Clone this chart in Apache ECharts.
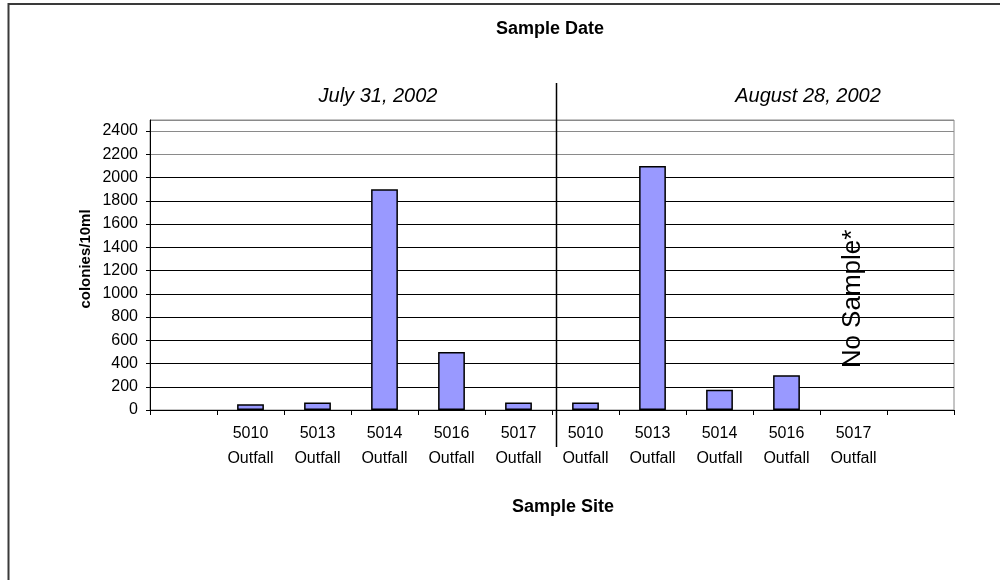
<!DOCTYPE html>
<html>
<head>
<meta charset="utf-8">
<script src="https://cdn.jsdelivr.net/npm/echarts@6/dist/echarts.min.js"></script>
<style>
html,body{margin:0;padding:0;background:#fff;}
#chart{width:1000px;height:580px;}
</style>
</head>
<body>
<div id="chart"></div>
<script>
// ---- data ----
const sites = ['5010', '5013', '5014', '5016', '5017'];
const siteSuffix = 'Outfall';
const sampleDates = ['July 31, 2002', 'August 28, 2002'];
const july31Values = [50, 65, 1900, 500, 65];
const august28Values = [65, 2100, 175, 300, null];
const noSampleText = 'No Sample*';
const noSampleSiteIndex = 4;      // 5017 on August 28
const noSampleLabelValue = 955;   // where the note sits on the value scale
const yAxisMin = 0;
const yAxisMax = 2495;
const yAxisInterval = 200;
const titleText = 'Sample Date';
const xAxisTitle = 'Sample Site';
const yAxisTitle = 'colonies/10ml';

// ---- build ----
const siteLabels = sites.map(s => s + '\n' + siteSuffix);
const categories = [''].concat(siteLabels, siteLabels, ['']);
const barValues = [null].concat(july31Values, august28Values, [null]);

const FONT = "'Liberation Sans', Arial, sans-serif";
const chart = echarts.init(document.getElementById('chart'), null, {renderer: 'canvas'});

const splitColors = [];
for (let v = yAxisMin; v <= yAxisMax; v += yAxisInterval) {
  splitColors.push(v >= 2200 ? '#8a8a8a' : '#000000');
}
splitColors.push('#8a8a8a');

chart.setOption({
  animation: false,
  backgroundColor: '#ffffff',
  grid: {
    left: 150, right: 46, top: 120, bottom: 170,
    show: true, borderColor: '#8a8a8a', borderWidth: 1, backgroundColor: 'transparent'
  },
  xAxis: {
    type: 'category',
    data: categories,
    boundaryGap: true,
    axisLine: {lineStyle: {color: '#000', width: 1}},
    axisTick: {show: true, length: 5, lineStyle: {color: '#000'}, interval: 0},
    axisLabel: {
      interval: 0, color: '#000', fontFamily: FONT, fontSize: 16,
      lineHeight: 25, margin: 11
    },
    splitLine: {show: false}
  },
  yAxis: {
    type: 'value',
    min: yAxisMin, max: yAxisMax, interval: yAxisInterval,
    axisLine: {show: true, lineStyle: {color: '#000', width: 1}},
    axisTick: {show: true, length: 4, lineStyle: {color: '#000'}},
    axisLabel: {color: '#000', fontFamily: FONT, fontSize: 16, margin: 12, showMaxLabel: false,
                formatter: v => String(v)},
    splitLine: {show: true, lineStyle: {color: splitColors, width: 1}}
  },
  series: [{
    type: 'bar',
    data: barValues,
    barWidth: '40%',
    itemStyle: {color: '#9999ff', borderColor: '#000', borderWidth: 1.5}
  }]
});

function drawDecorations() {
  const b0 = chart.convertToPixel({gridIndex: 0}, [sites.length, 0]);
  const b1 = chart.convertToPixel({gridIndex: 0}, [sites.length + 1, 0]);
  const dividerX = Math.round((b0[0] + b1[0]) / 2 + 4) + 0.5;
  const note = chart.convertToPixel({gridIndex: 0},
    [1 + sites.length + noSampleSiteIndex, noSampleLabelValue]);

  chart.setOption({
    graphic: [
      {type: 'polyline', silent: true, z: 100,
       shape: {points: [[8.5, 580], [8.5, 4], [1000, 4]]},
       style: {stroke: '#3a3a3a', lineWidth: 2, fill: null}},
      {type: 'line', silent: true, z: 100,
       shape: {x1: dividerX, y1: 83, x2: dividerX, y2: 447},
       style: {stroke: '#000', lineWidth: 1.5}},
      {type: 'text', silent: true, z: 100,
       style: {text: titleText, x: 550, y: 29, align: 'center', verticalAlign: 'middle',
               font: "bold 18px " + FONT, fill: '#000'}},
      {type: 'text', silent: true, z: 100,
       style: {text: sampleDates[0], x: 378, y: 96, align: 'center', verticalAlign: 'middle',
               font: "italic 20px " + FONT, fill: '#000'}},
      {type: 'text', silent: true, z: 100,
       style: {text: sampleDates[1], x: 808, y: 96, align: 'center', verticalAlign: 'middle',
               font: "italic 20px " + FONT, fill: '#000'}},
      {type: 'text', silent: true, z: 100,
       style: {text: xAxisTitle, x: 563, y: 507, align: 'center', verticalAlign: 'middle',
               font: "bold 18px " + FONT, fill: '#000'}},
      {type: 'text', silent: true, z: 100, x: 86, y: 259, rotation: Math.PI / 2,
       style: {text: yAxisTitle, x: 0, y: 0, align: 'center', verticalAlign: 'middle',
               font: "bold 15px " + FONT, fill: '#000'}},
      {type: 'text', silent: true, z: 100, x: note[0] - 1, y: note[1], rotation: Math.PI / 2,
       style: {text: noSampleText, x: 0, y: 0, align: 'center', verticalAlign: 'middle',
               font: "26px " + FONT, fill: '#000'}}
    ]
  });
}
drawDecorations();
</script>
</body>
</html>
